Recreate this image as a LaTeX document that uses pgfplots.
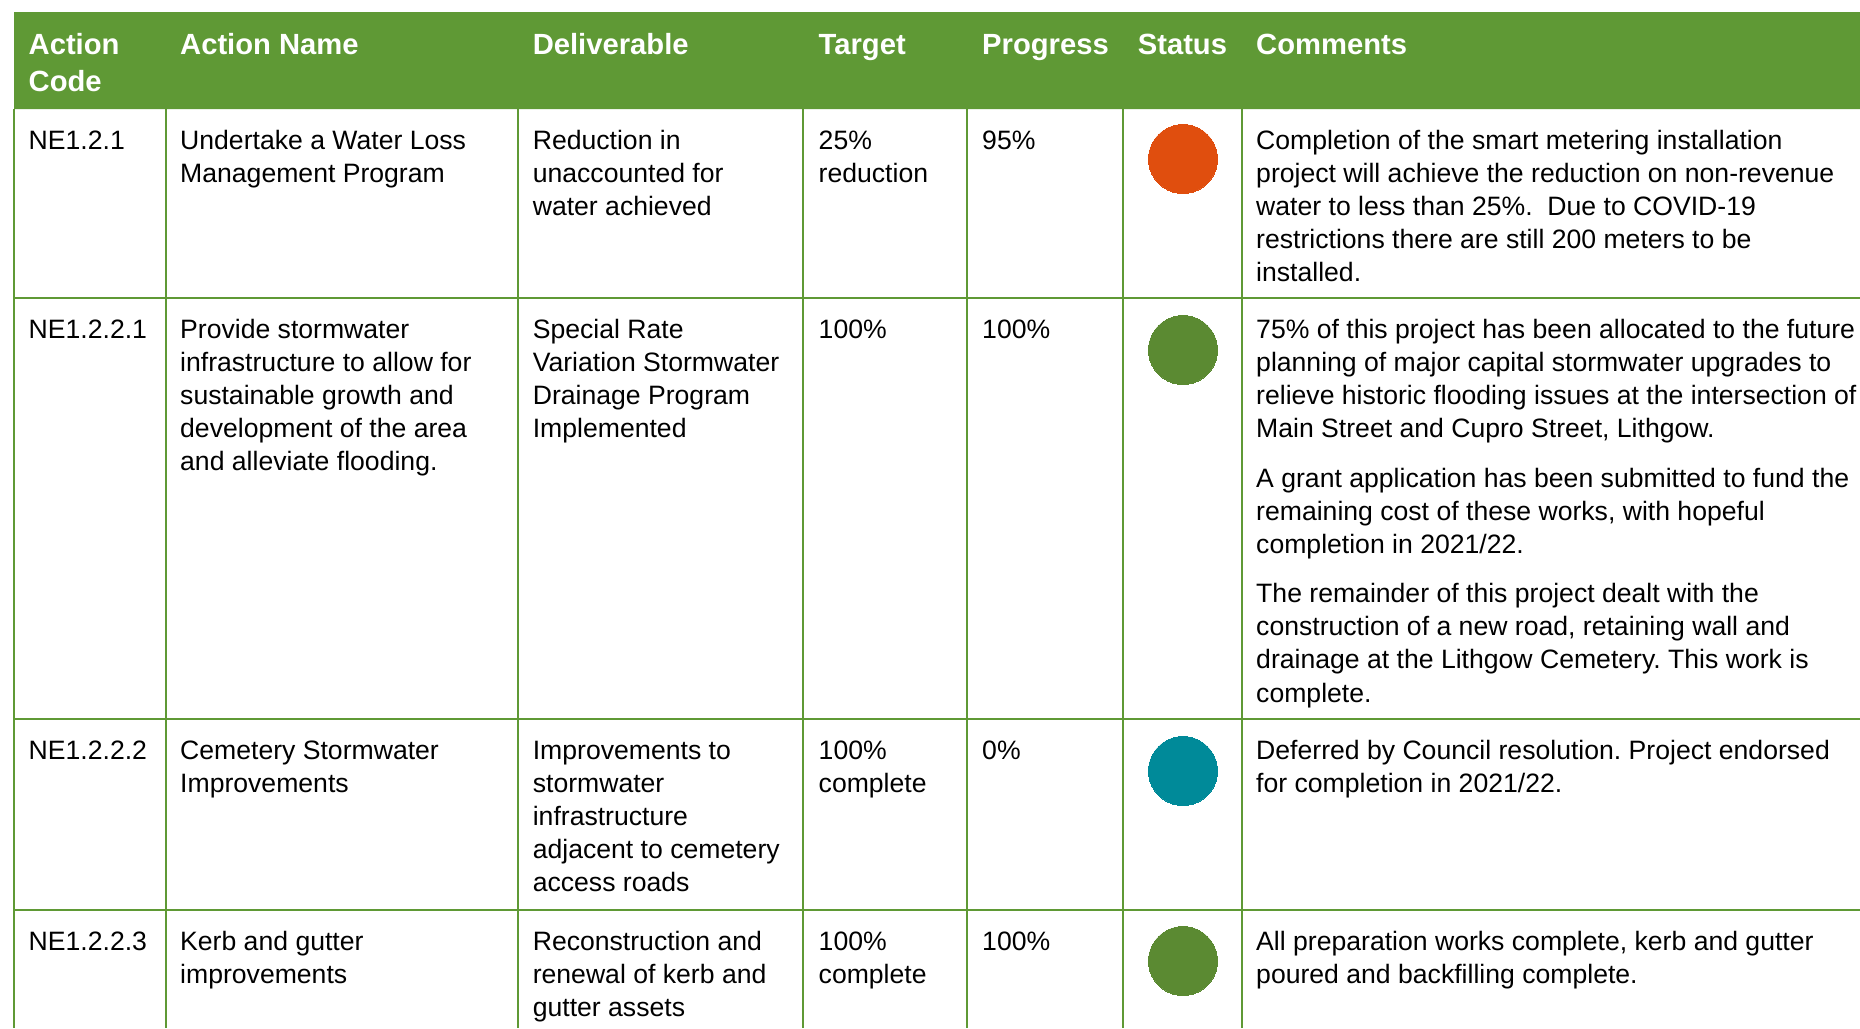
\documentclass[border=0pt]{standalone}
\usepackage{pgfplots}
\pgfplotsset{compat=1.18}
\usepackage{fontspec}
\setmainfont{Liberation Sans}
\frenchspacing
\definecolor{hdr}{HTML}{5F9935}
\definecolor{gridg}{HTML}{5F9935}
\definecolor{stgreen}{HTML}{5B8A32}
\definecolor{storange}{HTML}{E04E0E}
\definecolor{stteal}{HTML}{008A99}
\newcommand\bodyfont{\fontsize{26.6}{33.2}\selectfont}
\newcommand\hdrfont{\fontsize{29.2}{37}\selectfont\bfseries}
\newcommand\cellT[3]{\node[anchor=base west, inner sep=0pt, font=\bodyfont, text=black] at (axis cs:#1,#2) {#3};}
\newcommand\cellH[3]{\node[anchor=base west, inner sep=0pt, font=\hdrfont, text=white] at (axis cs:#1,#2) {#3};}
\begin{document}
\begin{tikzpicture}
\useasboundingbox (0,0) rectangle (1860pt,1028pt);
\clip (0,0) rectangle (1860pt,1028pt);
\begin{axis}[at={(0,0)}, anchor=south west,
  width=1860pt, height=1028pt, scale only axis,
  xmin=0, xmax=1860, ymin=0, ymax=1028, y dir=reverse,
  hide axis, clip=false]
% header band
\addplot[fill=hdr, draw=none] coordinates {(14,12) (1860,12) (1860,109) (14,109) (14,12)};
% grid lines
\addplot[gridg, line width=1.3pt] coordinates {(14,298) (1860,298)};
\addplot[gridg, line width=1.3pt] coordinates {(14,719) (1860,719)};
\addplot[gridg, line width=1.3pt] coordinates {(14,910) (1860,910)};
\addplot[gridg, line width=1.3pt] coordinates {(14,109) (14,1028)};
\addplot[gridg, line width=1.3pt] coordinates {(166,109) (166,1028)};
\addplot[gridg, line width=1.3pt] coordinates {(518,109) (518,1028)};
\addplot[gridg, line width=1.3pt] coordinates {(803,109) (803,1028)};
\addplot[gridg, line width=1.3pt] coordinates {(967,109) (967,1028)};
\addplot[gridg, line width=1.3pt] coordinates {(1123,109) (1123,1028)};
\addplot[gridg, line width=1.3pt] coordinates {(1242,109) (1242,1028)};
% status circles
\addplot[storange, only marks, mark=*, mark size=34.5pt, mark options={fill=storange, draw=storange, line width=0pt}] coordinates {(1183,159)};
\addplot[stgreen, only marks, mark=*, mark size=34.5pt, mark options={fill=stgreen, draw=stgreen, line width=0pt}] coordinates {(1183,350) (1183,961)};
\addplot[stteal, only marks, mark=*, mark size=34.5pt, mark options={fill=stteal, draw=stteal, line width=0pt}] coordinates {(1183,771)};
% header text
\cellH{28.5}{54}{Action}
\cellH{28.5}{91}{Code}
\cellH{180}{54}{Action Name}
\cellH{532.6}{54}{Deliverable}
\cellH{818.5}{54}{Target}
\cellH{982}{54}{Progress}
\cellH{1137.6}{54}{Status}
\cellH{1256}{54}{Comments}
% row 1
\cellT{28.5}{149}{NE1.2.1}
\cellT{180}{149}{Undertake a Water Loss}
\cellT{180}{182.2}{Management Program}
\cellT{532.6}{149}{Reduction in}
\cellT{532.6}{182.2}{unaccounted for}
\cellT{532.6}{215.4}{water achieved}
\cellT{818.5}{149}{25\%}
\cellT{818.5}{182.2}{reduction}
\cellT{982}{149}{95\%}
\cellT{1256}{149}{Completion of the smart metering installation}
\cellT{1256}{182.2}{project will achieve the reduction on non-revenue}
\cellT{1256}{215.4}{water to less than 25\%.\ \ Due to COVID-19}
\cellT{1256}{248.6}{restrictions there are still 200 meters to be}
\cellT{1256}{281.8}{installed.}
% row 2
\cellT{28.5}{338}{NE1.2.2.1}
\cellT{180}{338}{Provide stormwater}
\cellT{180}{371.2}{infrastructure to allow for}
\cellT{180}{404.4}{sustainable growth and}
\cellT{180}{437.6}{development of the area}
\cellT{180}{470.8}{and alleviate flooding.}
\cellT{532.6}{338}{Special Rate}
\cellT{532.6}{371.2}{Variation Stormwater}
\cellT{532.6}{404.4}{Drainage Program}
\cellT{532.6}{437.6}{Implemented}
\cellT{818.5}{338}{100\%}
\cellT{982}{338}{100\%}
\cellT{1256}{338}{75\% of this project has been allocated to the future}
\cellT{1256}{371.2}{planning of major capital stormwater upgrades to}
\cellT{1256}{404.4}{relieve historic flooding issues at the intersection of}
\cellT{1256}{437.6}{Main Street and Cupro Street, Lithgow.}
\cellT{1256}{487.4}{A grant application has been submitted to fund the}
\cellT{1256}{520.6}{remaining cost of these works, with hopeful}
\cellT{1256}{553.8}{completion in 2021/22.}
\cellT{1256}{602.4}{The remainder of this project dealt with the}
\cellT{1256}{635.6}{construction of a new road, retaining wall and}
\cellT{1256}{668.8}{drainage at the Lithgow Cemetery. This work is}
\cellT{1256}{702}{complete.}
% row 3
\cellT{28.5}{759}{NE1.2.2.2}
\cellT{180}{759}{Cemetery Stormwater}
\cellT{180}{792.2}{Improvements}
\cellT{532.6}{759}{Improvements to}
\cellT{532.6}{792.2}{stormwater}
\cellT{532.6}{825.4}{infrastructure}
\cellT{532.6}{858.6}{adjacent to cemetery}
\cellT{532.6}{891.8}{access roads}
\cellT{818.5}{759}{100\%}
\cellT{818.5}{792.2}{complete}
\cellT{982}{759}{0\%}
\cellT{1256}{759}{Deferred by Council resolution. Project endorsed}
\cellT{1256}{792.2}{for completion in 2021/22.}
% row 4
\cellT{28.5}{950}{NE1.2.2.3}
\cellT{180}{950}{Kerb and gutter}
\cellT{180}{983.2}{improvements}
\cellT{532.6}{950}{Reconstruction and}
\cellT{532.6}{983.2}{renewal of kerb and}
\cellT{532.6}{1016.4}{gutter assets}
\cellT{818.5}{950}{100\%}
\cellT{818.5}{983.2}{complete}
\cellT{982}{950}{100\%}
\cellT{1256}{950}{All preparation works complete, kerb and gutter}
\cellT{1256}{983.2}{poured and backfilling complete.}
\end{axis}
\end{tikzpicture}
\end{document}
